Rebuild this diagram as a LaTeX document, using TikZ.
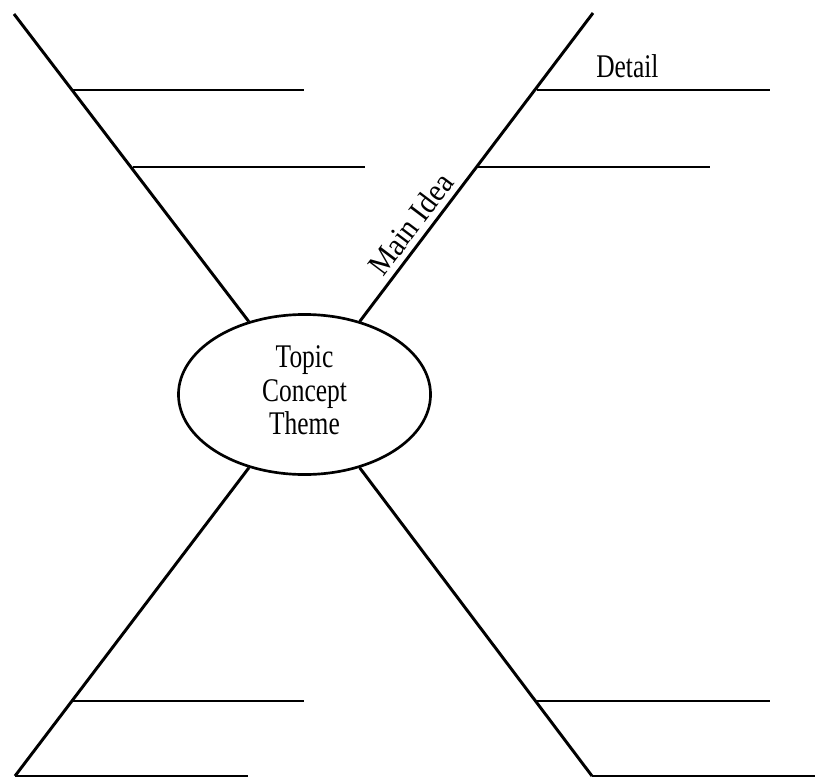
\documentclass[tikz,border=0pt]{standalone}
\usepackage{fontspec}
\setmainfont{Liberation Serif}
\usetikzlibrary{shapes.geometric, positioning}

\newcommand{\narrowtext}[2][0.77]{\scalebox{#1}[1]{#2}}

\begin{document}
\begin{tikzpicture}[
    x=0.025cm, y=-0.025cm,
    topic/.style={ellipse, draw, line width=1.9pt, minimum width=6.3cm, minimum height=4.0cm, inner sep=0pt},
    branch/.style={line width=2.1pt},
    detailline/.style={line width=2.1pt},
    txt/.style={font=\fontsize{23.5}{23.7}\selectfont},
    ]
    \useasboundingbox (0,0) rectangle (815,776);

    % ---- centre ----
    \node[topic, txt] (topic) at (304.5,394.5)
        {\narrowtext{\begin{tabular}{@{}c@{}}Topic\\Concept\\Theme\end{tabular}}};

    % ---- main branches ----
    \coordinate (ul) at (14,14);
    \coordinate (ur) at (593,13);
    \coordinate (ll) at (15,776);
    \coordinate (lr) at (592,776);
    \draw[branch] (ul) -- (topic);
    \draw[branch] (topic) -- (ur)
        node[pos=0.28, sloped, above, inner sep=4pt, font=\fontsize{22.5}{22.5}\selectfont] (mainidea) {\narrowtext[0.92]{Main Idea}};
    \draw[branch] (ll) -- (topic);
    \draw[branch] (lr) -- (topic);

    % ---- detail lines ----
    \foreach \name/\xa/\xb/\y in {ula/73/304/90, ulb/133/365/167, ura/537/770/90, urb/478/710/167,
                                  lla/73/304/701, llb/15/248/776, lra/537/770/701, lrb/592/830/776}
    {
        \coordinate (\name-s) at (\xa,\y);
        \coordinate (\name-e) at (\xb,\y);
        \draw[detailline] (\name-s) -- (\name-e);
    }
    \node[txt, anchor=base west, inner sep=0pt] (detail) at (596,77) {\narrowtext{Detail}};

\end{tikzpicture}
\end{document}
